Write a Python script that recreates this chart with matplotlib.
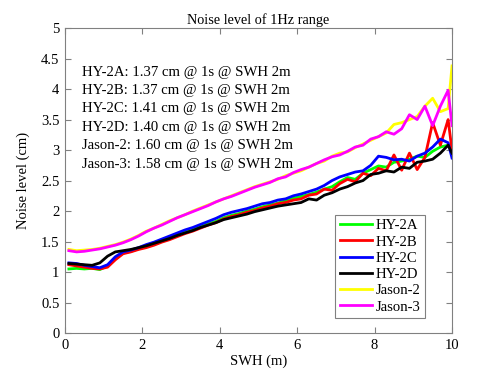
import matplotlib
matplotlib.use("Agg")
import matplotlib.pyplot as plt
import numpy as np

plt.rcParams["font.family"] = ["Liberation Serif", "DejaVu Serif"]
plt.rcParams["font.size"] = 10.5

# SWH bin centres (m)
swh = list(np.round(np.arange(0.1, 10.0, 0.2), 1)) + [10.0]

hy2a = [1.05, 1.06, 1.05, 1.06, 1.04, 1.10, 1.22, 1.31, 1.34, 1.38,
        1.42, 1.46, 1.50, 1.55, 1.60, 1.65, 1.69, 1.74, 1.79, 1.83,
        1.89, 1.93, 1.96, 2.00, 2.03, 2.07, 2.10, 2.13, 2.17, 2.21,
        2.24, 2.27, 2.31, 2.36, 2.40, 2.48, 2.55, 2.52, 2.62, 2.68,
        2.74, 2.72, 2.80, 2.82, 2.85, 2.90, 2.88, 2.98, 3.05, 3.08, 3.00]
hy2b = [1.12, 1.10, 1.08, 1.06, 1.05, 1.08, 1.20, 1.30, 1.33, 1.37,
        1.40, 1.44, 1.49, 1.53, 1.58, 1.63, 1.67, 1.72, 1.77, 1.81,
        1.87, 1.91, 1.94, 1.98, 2.01, 2.05, 2.08, 2.12, 2.14, 2.18,
        2.20, 2.26, 2.28, 2.36, 2.34, 2.45, 2.52, 2.48, 2.62, 2.58,
        2.70, 2.66, 2.92, 2.67, 2.95, 2.68, 2.88, 3.45, 3.08, 3.50, 3.00]
hy2c = [1.15, 1.14, 1.11, 1.09, 1.07, 1.12, 1.25, 1.33, 1.36, 1.40,
        1.45, 1.49, 1.54, 1.59, 1.64, 1.69, 1.73, 1.78, 1.83, 1.88,
        1.94, 1.98, 2.01, 2.04, 2.08, 2.12, 2.14, 2.18, 2.20, 2.25,
        2.28, 2.32, 2.36, 2.42, 2.50, 2.56, 2.60, 2.64, 2.66, 2.75,
        2.90, 2.88, 2.84, 2.85, 2.82, 2.90, 2.95, 3.05, 3.18, 3.12, 2.87]
hy2d = [1.14, 1.13, 1.12, 1.11, 1.15, 1.26, 1.33, 1.35, 1.37, 1.40,
        1.43, 1.47, 1.51, 1.55, 1.60, 1.64, 1.68, 1.73, 1.77, 1.81,
        1.86, 1.89, 1.92, 1.95, 1.99, 2.02, 2.05, 2.08, 2.10, 2.12,
        2.14, 2.20, 2.18, 2.26, 2.30, 2.36, 2.40, 2.46, 2.50, 2.60,
        2.62, 2.66, 2.64, 2.72, 2.70, 2.80, 2.82, 2.85, 2.95, 3.08, 2.95]
jason2 = [1.37, 1.35, 1.36, 1.37, 1.39, 1.42, 1.45, 1.49, 1.54, 1.60,
          1.67, 1.72, 1.78, 1.84, 1.89, 1.94, 2.00, 2.05, 2.10, 2.15,
          2.20, 2.25, 2.30, 2.35, 2.40, 2.44, 2.48, 2.52, 2.58, 2.62,
          2.66, 2.72, 2.78, 2.82, 2.90, 2.95, 2.97, 3.04, 3.10, 3.16,
          3.22, 3.28, 3.42, 3.45, 3.50, 3.55, 3.72, 3.85, 3.63, 3.68, 4.38]
jason3 = [1.35, 1.33, 1.34, 1.36, 1.38, 1.41, 1.44, 1.48, 1.53, 1.59,
          1.66, 1.72, 1.77, 1.83, 1.89, 1.94, 1.99, 2.04, 2.09, 2.15,
          2.20, 2.24, 2.29, 2.34, 2.39, 2.43, 2.47, 2.53, 2.56, 2.63,
          2.68, 2.72, 2.78, 2.84, 2.89, 2.92, 2.98, 3.05, 3.08, 3.18,
          3.22, 3.30, 3.26, 3.35, 3.58, 3.50, 3.72, 3.40, 3.72, 3.98, 3.40]

names = ["HY-2A", "HY-2B", "HY-2C", "HY-2D", "Jason-2", "Jason-3"]
colors = ["#00ff00", "#ff0000", "#0000ff", "#000000", "#ffff00", "#ff00ff"]
series = [hy2a, hy2b, hy2c, hy2d, jason2, jason3]
noise_2m = ["1.37", "1.37", "1.41", "1.40", "1.60", "1.58"]

fig = plt.figure(figsize=(5, 3.75), dpi=100)
ax = fig.add_axes([0.13, 0.112, 0.774, 0.813])

for name, col, vals in zip(names, colors, series):
    ax.plot(swh, vals, color=col, lw=2.0, label=name)

for i, (name, val) in enumerate(zip(names, noise_2m)):
    ax.text(0.44, 4.28 - 0.302 * i, f"{name}: {val} cm @ 1s @ SWH 2m",
            va="center", ha="left", fontsize=10.6)

ax.set_xlim(0, 10)
ax.set_ylim(0, 5)
ax.set_xticks([0, 2, 4, 6, 8, 10])
ax.set_yticks(np.arange(0, 5.01, 0.5))
ax.set_yticklabels(["0", "0.5", "1", "1.5", "2", "2.5", "3", "3.5", "4", "4.5", "5"])
ax.tick_params(direction="in", top=True, right=True, length=4,
               color="0.5", labelsize=10.5, pad=4)
for sp in ax.spines.values():
    sp.set_color("0.5")
    sp.set_linewidth(0.8)

ax.set_title("Noise level of 1Hz range", fontsize=10.3, pad=3)
ax.set_xlabel("SWH (m)", fontsize=10.5, labelpad=2)
ax.set_ylabel("Noise level (cm)", fontsize=10.5, labelpad=8)

leg = ax.legend(loc="lower right", bbox_to_anchor=(0.93, 0.049),
                borderaxespad=0, fancybox=False, framealpha=1,
                edgecolor="0.5", fontsize=10.6, handlelength=2.2,
                handletextpad=0.25, labelspacing=0.2, borderpad=0.3)
leg.get_frame().set_linewidth(0.8)

fig.savefig("out.png", dpi=100)
